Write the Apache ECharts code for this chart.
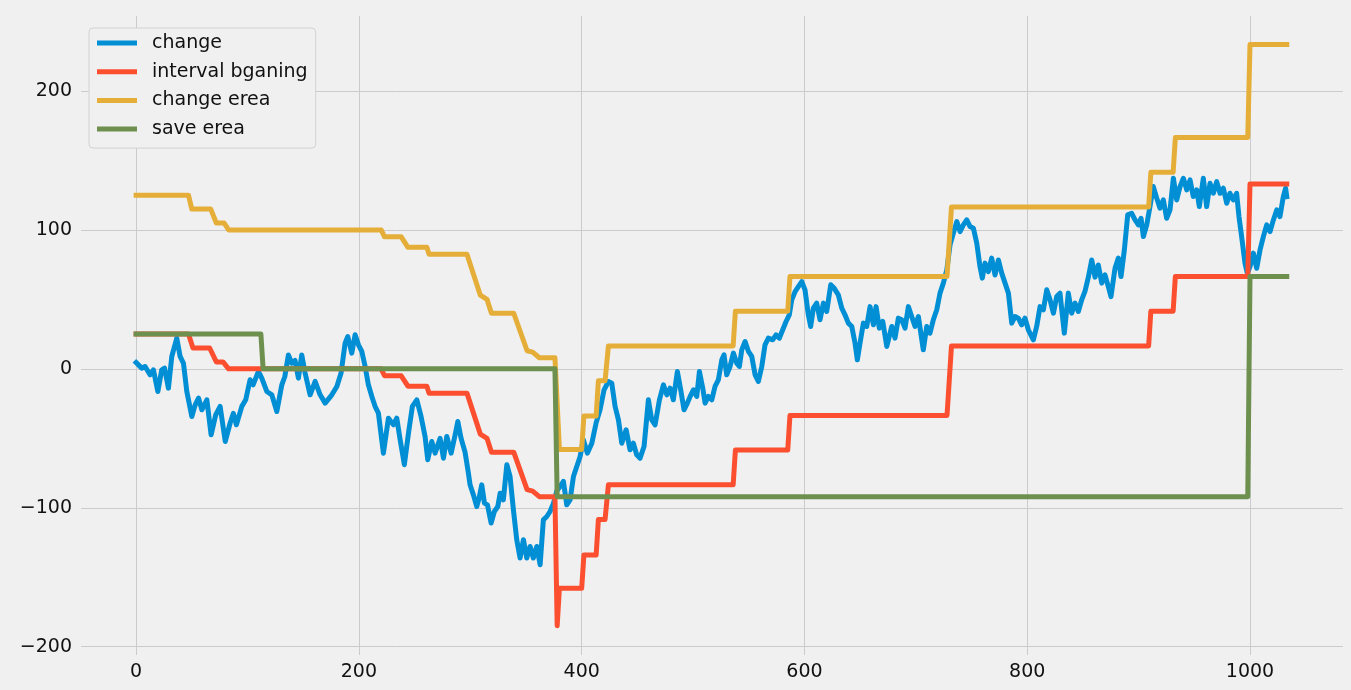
<!DOCTYPE html>
<html>
<head>
<meta charset="utf-8">
<title>change</title>
<script src="https://cdn.jsdelivr.net/npm/echarts@6.0.0/dist/echarts.min.js"></script>
<style>
  html, body { margin: 0; padding: 0; background: #f0f0f0; }
  #lineChart { width: 1351px; height: 690px; }
</style>
</head>
<body>
<div id="lineChart"></div>
<script>
// tick labels
const xTicks = [0, 200, 400, 600, 800, 1000];
const yTicks = [-200, -100, 0, 100, 200];

// [index, value]
const change = [
  [0, 4.5], [5, 0.5], [8, 1.7], [12.5, -4.3], [15.5, -0.7], [19.5, -16.3], [23, -0.7], [25.5, 0.5],
  [29, -13.9], [32, 8.9], [36.5, 22], [39.5, 8.9], [42.5, 4], [45.5, -16.3], [50, -34.3], [53, -25.9],
  [56, -21], [59, -29.5], [63.5, -22.3], [67.3, -47.5], [71.5, -33], [75.4, -27], [80, -52.3], [84.4, -39],
  [87.3, -32], [90, -40.3], [94.9, -27], [98.4, -22.3], [102.3, -7.9], [105, -11.5], [109.8, -1.9],
  [112.8, -6.7], [117.3, -16.3], [121.8, -18.7], [126.3, -30.7], [130.8, -11.5], [133.5, -5.5],
  [136.7, 10], [139.7, 4], [142.7, 6], [145.7, -6.7], [148.7, 10], [151.7, -3], [156.2, -18.7],
  [160.7, -9], [165.2, -18.7], [169.7, -24.7], [175.7, -18.7], [180.2, -12.7], [184, -3], [187.6, 18.5],
  [190, 23.3], [193.6, 11.3], [196.6, 24.5], [199.6, 17.3], [202.6, 12.5], [205.6, 1.7], [208.5, -11.5],
  [211.6, -19.9], [214.5, -27], [217.5, -31.9], [222, -60.7], [226.5, -35.5], [231, -40.3], [234, -35.5],
  [237, -51], [240.8, -69], [244.5, -46.3], [248, -27], [252, -22.3], [255.8, -34.3], [259.4, -48.7],
  [261.8, -65.5], [265.4, -52.3], [268.4, -60.7], [272.9, -50], [275.9, -64.3], [278.9, -48.7],
  [282.8, -60.7], [286.4, -47.5], [288.8, -37.9], [291.7, -49.9], [295.3, -60], [298.3, -75],
  [299.8, -83.5], [302.8, -90.7], [305.8, -99.1], [307.9, -93], [310.3, -83.5], [312.7, -96.7],
  [315.4, -97.9], [318.7, -111], [321.6, -102.7], [324.7, -99.1], [326.8, -89.5], [329.7, -94.3],
  [332.8, -69], [335.7, -77.5], [338.7, -101.5], [341.7, -123], [344.7, -136.2], [347.7, -123],
  [350.7, -136.2], [353.7, -127.9], [356.6, -136.2], [359.7, -127.9], [362.7, -141], [365.6, -108.7],
  [368.7, -106.3], [371.6, -102.7], [374.6, -97], [377.6, -88], [380.6, -84.7], [383.6, -81],
  [386.6, -97.9], [389.6, -94.3], [392.6, -77.5], [395.6, -70.3], [398.6, -63.1], [401.5, -51],
  [405.1, -60.7], [409.1, -53.5], [412.9, -39.1], [416.5, -29.5], [420.1, -15.1], [424, -9.1],
  [427, -10.3], [430, -27.1], [433, -36.7], [436, -53.5], [439.9, -43.9], [443.4, -58.3], [446.4, -53.5],
  [449.4, -61.9], [452.4, -64.3], [456, -55.9], [459.9, -22.3], [462.9, -36.7], [465.9, -40.3],
  [469.8, -22.3], [473.4, -11.5], [476.4, -18.7], [479.4, -13.9], [482.3, -22.3], [485.9, -1.9],
  [488.9, -15.1], [491.9, -29.5], [494.9, -24.7], [497.3, -20], [500.3, -15.1], [503.3, -19.9],
  [505.7, -1.9], [508.7, -13.9], [510.8, -24.7], [513.8, -19.9], [516.8, -22.3], [519.7, -12.7],
  [522.7, -7.9], [525.8, 6.5], [527.8, 10.1], [530.2, -4.3], [533.2, 1.7], [536.2, 11.3], [539.2, 4.1],
  [541.6, 1.7], [543.7, 13.7], [546.7, 19.7], [549.7, 12.5], [552.7, 8.9], [555.7, -4.3], [558.6, -9.1],
  [561.7, 1.7], [564.6, 17.3], [567.6, 22.1], [571.5, 20.9], [574.5, 24.5], [577.5, 22.1], [580.5, 28.1],
  [583.5, 34.1], [586.4, 38.9], [588.6, 49.7], [591.6, 55.6], [594.5, 59.2], [597.6, 62.8], [600.5, 56.9],
  [603.5, 38.9], [605.6, 30.5], [608, 43.7], [611, 47.3], [614, 35.3], [617, 47.3], [620, 41.3],
  [623.6, 60.5], [626.6, 58.1], [630.4, 53.3], [633.5, 43.7], [636.4, 38.9], [639.4, 32.9],
  [642.5, 30.5], [645.4, 18.5], [647.5, 6.5], [649.9, 18.5], [652.9, 32.9], [655.9, 30.5], [658.9, 44.8],
  [661.9, 31.7], [664.3, 44.8], [667.2, 29.3], [670.3, 34.1], [673.9, 16.1], [676.9, 25.7], [678.4, 30.5],
  [681.3, 22.1], [684.3, 36.5], [687.3, 35.3], [690.3, 29.3], [693.3, 44.8], [696.3, 37.6], [699.3, 30.5],
  [702.3, 37.6], [706.7, 13.7], [709.8, 30.5], [712.7, 25.7], [715.7, 35.3], [718.8, 42.5], [721.7, 54.5],
  [724.7, 61.7], [727.8, 71.2], [730.7, 89.2], [733.7, 97.7], [736.8, 106], [739.7, 98.8], [742.7, 103.6],
  [745.7, 107.2], [748.7, 102.4], [751.7, 101.2], [754.7, 90.4], [757.6, 73.6], [759.7, 65.3],
  [762.1, 76.1], [765.1, 70], [768.1, 79.7], [771.1, 67.6], [774.1, 78.4], [777.1, 68.9], [780.1, 61.7],
  [783.1, 54.5], [786.1, 32.9], [789.1, 37.6], [792, 36.5], [795, 31.7], [798, 36.5], [801, 28.1],
  [805.5, 20.9], [808.5, 30.5], [811.5, 44.8], [814.5, 42.5], [817.5, 56.9], [820.5, 49.7], [823.5, 40.1],
  [826.5, 52.1], [829.4, 54.5], [833.3, 25.7], [836.9, 54.5], [839.9, 40.1], [842.9, 47.3], [845.9, 41.3],
  [848.9, 49.7], [851.9, 56], [854.9, 66], [857.9, 78.4], [860.9, 66], [863.8, 74.8], [866.9, 61.7],
  [869.8, 67.6], [872.8, 59.2], [875.2, 52], [878.8, 72.4], [881.8, 79.7], [884.2, 66.4], [887.2, 85.6],
  [890.2, 110.8], [893.8, 112], [896.8, 107.2], [899.8, 103.6], [902.2, 108.4], [904.3, 95.2],
  [907.3, 103.6], [910.2, 116.8], [913.2, 131.2], [916.3, 122.8], [919.2, 115.7], [922.2, 121.6],
  [925.2, 108.4], [928.2, 114.4], [931.2, 137.2], [934.2, 121.6], [937.2, 131.2], [940.2, 137.2],
  [943.2, 128.8], [946.2, 136], [949.1, 124], [952.2, 128.8], [954.5, 116.8], [958.1, 137.2],
  [961.1, 116.8], [964.1, 133.6], [967.1, 126.4], [970.1, 134.8], [973.1, 126.4], [976.1, 130],
  [979.1, 119.2], [982, 126.4], [985, 121.6], [988, 126.4], [990.1, 109.6], [992.5, 95.2], [995.5, 76.1],
  [997.6, 68.9], [1000, 73.6], [1003, 83.3], [1006, 72.4], [1009, 85.6], [1012, 95.2], [1015, 103.6],
  [1018, 98.8], [1021, 107.2], [1024, 114.4], [1026.9, 109.6], [1029.9, 124], [1032, 130], [1033, 124]
];

const intervalBegin = [
  [0, 25], [47, 25], [51, 15], [66, 15], [72, 5], [78, 5], [83, 0], [220, 0], [223, -5], [238, -5],
  [244, -12.5], [261, -12.5], [263, -17.5], [297, -17.5], [309, -47], [315, -50], [319, -60], [339, -60],
  [351, -87], [356, -88], [362, -92], [376, -92], [378, -185], [380, -158], [400, -158], [402, -134],
  [413, -134], [415, -108.5], [421, -108.5], [424, -83.5], [536, -83.5], [538, -58.5], [585, -58.5],
  [587, -33.5], [728, -33.5], [730, -8.5], [732, 16.5], [909, 16.5], [911, 41.5], [931, 41.5],
  [933, 66.5], [998, 66.5], [1000, 133], [1033, 133]
];

const changeArea = [
  [0, 125], [47, 125], [50, 115], [67, 115], [72, 105], [79, 105], [83, 100], [220, 100], [223, 95],
  [238, 95], [244, 87.5], [261, 87.5], [263, 82.5], [297, 82.5], [309, 53], [315, 50], [319, 40],
  [339, 40], [351, 13], [356, 12], [362, 8], [376, 8], [380, -58], [400, -58], [402, -34], [413, -34],
  [415, -8.5], [421, -8.5], [424, 16.5], [536, 16.5], [538, 41.5], [585, 41.5], [587, 66.5], [728, 66.5],
  [730, 91.5], [732, 116.5], [909, 116.5], [911, 141.5], [931, 141.5], [933, 166.5], [998, 166.5],
  [1000, 233.5], [1033, 233.5]
];

const saveArea = [
  [0, 25], [112, 25], [114, 0], [376, 0], [378, -92], [998, -92], [1000, 66.5], [1033, 66.5]
];

const font = "DejaVu Sans";
const minus = v => String(v).replace("-", "\u2212");

function lineSeries(name, data, color) {
  return {
    name: name,
    type: "line",
    data: data,
    showSymbol: false,
    symbol: "none",
    lineStyle: { color: color, width: 5, join: "round", cap: "square" },
    itemStyle: { color: color },
    emphasis: { disabled: true }
  };
}

let myChart = echarts.init(document.getElementById("lineChart"), null, { renderer: "canvas" });

const option = {
  backgroundColor: "#f0f0f0",
  animation: false,
  grid: { left: 81, right: 8, top: 16, bottom: 35, containLabel: false },
  legend: {
    left: 89,
    top: 28,
    orient: "vertical",
    icon: "rect",
    itemWidth: 40,
    itemHeight: 5,
    itemGap: 6.7,
    padding: [4, 8, 8, 8],
    backgroundColor: "#f0f0f0",
    borderColor: "#d2d2d2",
    borderWidth: 1,
    borderRadius: 4,
    textStyle: { fontFamily: font, fontSize: 19, color: "#111", lineHeight: 22, padding: [0, 0, 0, 10] },
    data: ["change", "interval bganing", "change erea", "save erea"]
  },
  xAxis: {
    type: "value",
    min: -49.5,
    max: 1083.5,
    axisLine: { show: false },
    axisTick: { show: false, customValues: xTicks },
    axisLabel: { customValues: xTicks, fontFamily: font, fontSize: 19, color: "#111", margin: 8, formatter: minus },
    splitLine: { show: true, lineStyle: { color: "#cbcbcb", width: 1 } }
  },
  yAxis: {
    type: "value",
    min: -206,
    max: 254,
    axisLine: { show: false },
    axisTick: { show: false, customValues: yTicks },
    axisLabel: { customValues: yTicks, fontFamily: font, fontSize: 19, color: "#111", margin: 9, formatter: minus },
    splitLine: { show: true, lineStyle: { color: "#cbcbcb", width: 1 } }
  },
  series: [
    lineSeries("change", change, "#008fd5"),
    lineSeries("interval bganing", intervalBegin, "#fc4f30"),
    lineSeries("change erea", changeArea, "#e5ae38"),
    lineSeries("save erea", saveArea, "#6d904f")
  ]
};

myChart.setOption(option);
</script>
</body>
</html>
